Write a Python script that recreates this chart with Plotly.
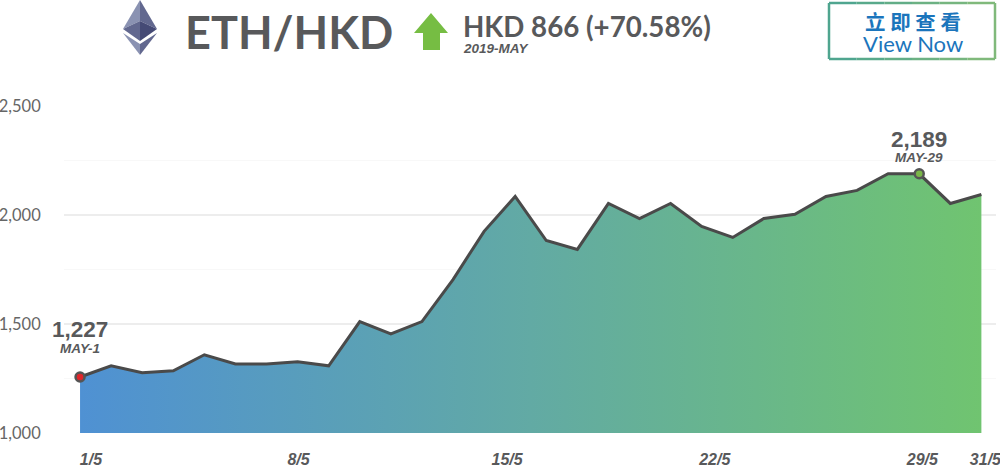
import plotly.graph_objects as go

values = [1257, 1308, 1276, 1285, 1359, 1317, 1317, 1327, 1308, 1511,
          1455, 1511, 1704, 1925, 2085, 1883, 1842, 2053, 1984, 2053,
          1948, 1897, 1984, 2003, 2085, 2113, 2189, 2189, 2053, 2094]
points = list(range(len(values)))
tick_labels = ["1/5", "8/5", "15/5", "22/5", "29/5", "31/5"]
tick_points = [0.35, 7.03, 13.74, 20.42, 27.1, 29.13]
y_ticks = [1000, 1500, 2000, 2500]
marked_points = [0, 27]
marked_labels = ["1,227", "2,189"]
marked_dates = ["MAY-1", "MAY-29"]
marked_colors = ["#e0262b", "#7ab648"]

W, H = 1000, 469
ML, MR, MT, MB = 64, 4, 106, 36
GREY = "#58595b"
BOLD = "Liberation Sans"


def px(x):
    return (x - ML) / (W - ML - MR)


def py(y):
    return 1 - (y - MT) / (H - MT - MB)


def poly(pts, color):
    d = "M" + " L".join(f"{px(x):.5f},{py(y):.5f}" for x, y in pts) + " Z"
    return dict(type="path", xref="paper", yref="paper", path=d,
                fillcolor=color, line=dict(width=0), layer="above")


def label(x, y, text, size, color=GREY, family="Lato", weight="normal",
          style="normal", anchor="center"):
    return dict(xref="paper", yref="paper", x=px(x), y=py(y), text=text,
                showarrow=False, xanchor=anchor, yanchor="middle",
                font=dict(family=family, size=size, color=color,
                          weight=weight, style=style))


fig = go.Figure()
fig.add_trace(go.Scatter(
    x=points, y=values, mode="lines",
    line=dict(color="#4a4a4a", width=3),
    fill="tozeroy",
    fillgradient=dict(type="horizontal",
                      colorscale=[[0, "#4f91d3"], [0.5, "#62aaa4"], [1, "#70c470"]]),
    hoverinfo="skip", showlegend=False))
fig.add_trace(go.Scatter(
    x=marked_points, y=[values[i] for i in marked_points], mode="markers",
    marker=dict(size=9, color=marked_colors, line=dict(color="#555555", width=2.5)),
    cliponaxis=False, hoverinfo="skip", showlegend=False))

shapes = [
    poly([(123, 29), (140, 0), (140, 21)], "#8a92b2"),
    poly([(157, 29), (140, 0), (140, 21)], "#62688f"),
    poly([(123, 29), (140, 21), (140, 41)], "#62688f"),
    poly([(157, 29), (140, 21), (140, 41)], "#454a75"),
    poly([(123, 33), (140, 44), (140, 55)], "#8a92b2"),
    poly([(157, 33), (140, 44), (140, 55)], "#62688f"),
    poly([(431, 13), (448, 33), (440, 33), (440, 50), (423, 50), (423, 33), (414, 33)], "#76bd43"),
]

# button border, shaded from teal at the left to green at the right
left, right, top, bottom = 829, 995, 3, 59
steps = ["#4fa58f", "#58a98b", "#62ad87", "#6cb183", "#76b57f", "#80b97b"]
seg = (right - left) / len(steps)
for i, c in enumerate(steps):
    for yy in (top, bottom):
        shapes.append(dict(type="line", xref="paper", yref="paper",
                           x0=px(left + i * seg), x1=px(left + (i + 1) * seg),
                           y0=py(yy), y1=py(yy), line=dict(color=c, width=2.5)))
for xx, c in ((left, steps[0]), (right, steps[-1])):
    shapes.append(dict(type="line", xref="paper", yref="paper",
                       x0=px(xx), x1=px(xx), y0=py(top), y1=py(bottom),
                       line=dict(color=c, width=2.5)))

annotations = [
    label(289, 32, "ETH/HKD", 45, weight="bold"),
    label(461, 27, "HKD 866 (+70.58%)", 27.7, weight="bold", anchor="left"),
    label(461, 49, "2019-MAY", 13.5, family=BOLD, weight="bold", style="italic", anchor="left"),
    label(913, 21, "立 即 查 看", 20.5, color="#1b75bc", family="Noto Sans CJK TC", weight="bold"),
    label(913, 43, "View Now", 22, color="#1b75bc"),
]
for i, lab, date in zip(marked_points, marked_labels, marked_dates):
    annotations.append(dict(x=i, y=values[i], xref="x", yref="y", text=lab, showarrow=False,
                            yanchor="middle", yshift=(377 - 330) if i == 0 else (173 - 139),
                            font=dict(family=BOLD, size=22.5, color=GREY, weight="bold")))
    annotations.append(dict(x=i, y=values[i], xref="x", yref="y", text=date, showarrow=False,
                            yanchor="middle", yshift=(377 - 349) if i == 0 else (173 - 157),
                            font=dict(family=BOLD, size=13.5, color=GREY, weight="bold", style="italic")))

fig.update_layout(
    width=W, height=H, margin=dict(l=ML, r=MR, t=MT, b=MB, pad=0),
    paper_bgcolor="white", plot_bgcolor="white",
    shapes=shapes, annotations=annotations,
    xaxis=dict(range=[-0.516, 29.47], tickmode="array", tickvals=tick_points,
               ticktext=tick_labels, showgrid=False, zeroline=False, showline=False,
               automargin=False, ticklabeloverflow="allow",
               ticks="outside", ticklen=12, tickcolor="rgba(0,0,0,0)",
               tickfont=dict(family=BOLD, size=16, color=GREY, weight="bold", style="italic")),
    yaxis=dict(range=[1000, 2500], tickmode="array", tickvals=y_ticks, tickformat=",d",
               showgrid=True, gridcolor="#ededed", gridwidth=1.5, zeroline=False,
               automargin=False,
               showline=False, ticks="outside", ticklen=19, tickcolor="rgba(0,0,0,0)",
               tickfont=dict(family="Lato", size=16.5, color="#666666"),
               minor=dict(tickmode="array", tickvals=[1250, 1750, 2250], showgrid=True,
                          gridcolor="#f8f8f8", gridwidth=1, ticks="")),
)
fig.write_html("out.html", config=dict(displayModeBar=False),
               post_script="document.body.style.margin='0';document.body.style.overflow='hidden';")
